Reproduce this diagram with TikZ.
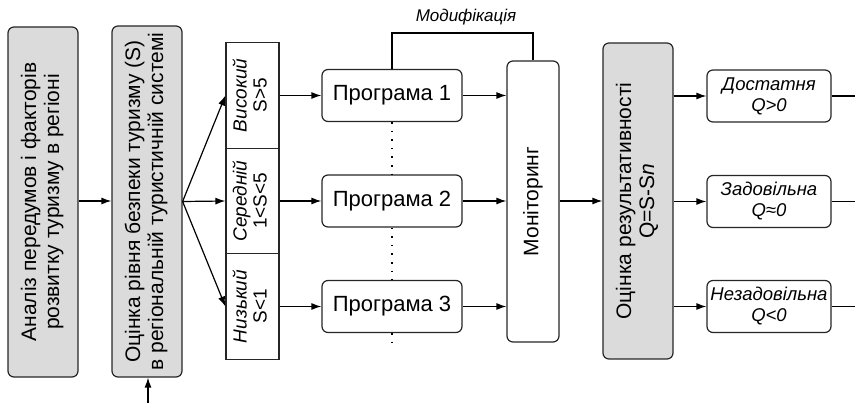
\documentclass[tikz,border=0pt]{standalone}
\usepackage{fontspec}
\setmainfont{Liberation Sans}
\usetikzlibrary{arrows.meta}
\begin{document}
\begin{tikzpicture}[x=1pt,y=-1pt,
    line width=1.2pt,
    >={Latex[length=10pt,width=7pt]},
    every node/.style={font=\fontsize{21}{23}\selectfont,inner sep=0pt,draw=black!85},
    graybox/.style={rounded corners=6pt,fill=black!14},
    whitebox/.style={rounded corners=6pt,fill=white},
    lvl/.style={minimum width=53pt,minimum height=105.5pt,font=\fontsize{19}{20}\selectfont},
    prog/.style={whitebox,minimum width=140pt,minimum height=52pt,font=\fontsize{22}{24}\selectfont},
    outc/.style={whitebox,minimum width=124pt,minimum height=52pt,font=\fontsize{18.5}{21}\selectfont\itshape},
    dots/.style={dash pattern=on 1.6pt off 7pt,line width=1.4pt}]
  \useasboundingbox (0,0) rectangle (855,403);
  % left column: analysis and safety level estimate
  \node[graybox,minimum width=70pt,minimum height=350pt] (anal) at (43,202)
    {\rotatebox{90}{\begin{tabular}{@{}c@{}}Аналіз передумов і факторів\\розвитку туризму в регіоні\end{tabular}}};
  \node[graybox,minimum width=70pt,minimum height=351pt] (est) at (147,201.5)
    {\rotatebox{90}{\begin{tabular}{@{}c@{}}Оцінка рівня безпеки туризму (S)\\в регіональній туристичній системі\end{tabular}}};
  \coordinate (inp) at (148,403);
  \draw[->] (anal.east |- 0,201) -- (est.west |- 0,201);
  \draw[->] (inp) -- (est.south -| inp);
  % levels and programs
  \foreach \i/\y/\lname/\cond in {1/95.5/Високий/S>5, 2/201/Середній/1<S<5, 3/306.5/Низький/S<1}{
    \node[lvl] (l\i) at (252.5,\y)
      {\rotatebox{90}{\begin{tabular}{@{}c@{}}\textit{\lname}\\\cond\end{tabular}}};
    \node[prog] (p\i) at (392,\y) {Програма \i};
    \draw[->] (est.east) -- (l\i.west);
    \draw[->] (l\i.east) -- (p\i.west);
  }
  \draw[dots] (p1.south) -- (p2.north) (p2.south) -- (p3.north);
  \coordinate (dend) at (392,346);
  \draw[dots] (p3.south) -- (dend);
  % monitoring with feedback
  \node[whitebox,minimum width=52pt,minimum height=281pt] (mon) at (533,201.5)
    {\rotatebox{90}{Моніторинг}};
  \foreach \i in {1,2,3}{
    \draw[->] (p\i.east) -- (mon.west |- p\i.east);
  }
  \coordinate (modtop) at (466,33);
  \draw (p1.north) |- (modtop) -| (mon.north);
  \node[draw=none,font=\fontsize{17}{19}\selectfont\itshape] (modl) at (466,17) {Модифікація};
  % result estimate and outcomes
  \node[graybox,minimum width=70pt,minimum height=316pt] (res) at (638,201)
    {\rotatebox{90}{\begin{tabular}{@{}c@{}}Оцінка результативності\\Q=S-S\textit{n}\end{tabular}}};
  \draw[->] (mon.east |- 0,201) -- (res.west |- 0,201);
  \foreach \i/\y/\oname/\cond in {1/96/Достатня/Q>0, 2/201.5/Задовільна/Q≈0, 3/306.5/Незадовільна/Q<0}{
    \node[outc,align=center] (o\i) at (769,\y) {\oname\\\cond};
    \coordinate (e\i) at (855,\y);
    \draw[->] (res.east |- o\i.west) -- (o\i.west);
    \draw (o\i.east) -- (e\i);
  }
\end{tikzpicture}
\end{document}
